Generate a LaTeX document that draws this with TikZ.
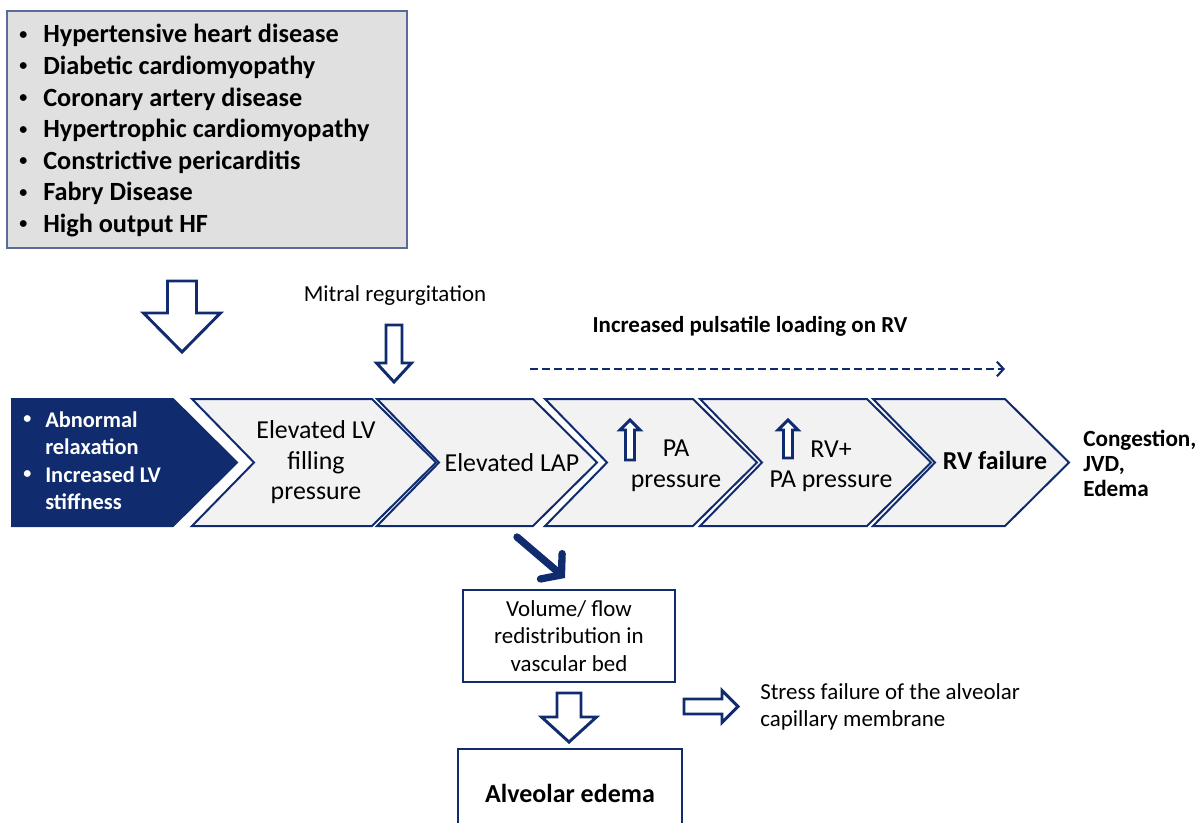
\documentclass[tikz,border=0pt]{standalone}
\usepackage{fontspec}
\setmainfont{Carlito}
\usetikzlibrary {positioning}
\usetikzlibrary{arrows.meta}

\definecolor{navy}{RGB}{16,44,110}
\definecolor{causegray}{RGB}{224,224,224}
\definecolor{stepgray}{RGB}{242,242,242}

% small bullet of the lists
\newcommand{\dotmark}{\raisebox{2.8pt}{\fontsize{12}{12}\selectfont\textbullet}}

% hollow vertical block arrow: x, start y, tip y, half shaft, half head, head length
\newcommand{\blockvert}[6]{%
  \draw[hollow] ({#1-#4},#2) -- ({#1+#4},#2) -- ({#1+#4},{#3-#6}) -- ({#1+#5},{#3-#6})
    -- (#1,#3) -- ({#1-#5},{#3-#6}) -- ({#1-#4},{#3-#6}) -- cycle;}

\begin{document}
\begin{tikzpicture}[x=0.75pt,y=-0.75pt,
    chevron/.style={draw=navy, fill=stepgray, line width=1.5pt, line join=miter},
    hollow/.style={draw=navy, fill=white, line width=2.2pt, line join=miter},
    bigtxt/.style={font=\fontsize{19.4}{22.9}\selectfont, align=center, inner sep=0pt},
    smalltxt/.style={font=\fontsize{17.2}{20.6}\selectfont, inner sep=0pt},
    causetxt/.style={font=\fontsize{19.7}{23.7}\selectfont\bfseries, anchor=base west, inner sep=0pt},
    onsettxt/.style={font=\fontsize{16.8}{20.6}\selectfont\bfseries, text=white, anchor=base west, inner sep=0pt}]
  \useasboundingbox (0,0) rectangle (1202,823);

  % causes
  \draw[draw=navy!70, fill=causegray, line width=1pt] (7,11) rectangle (407,248);
  \foreach \t [count=\i] in {Hypertensive heart disease, Diabetic cardiomyopathy, Coronary artery disease,
      Hypertrophic cardiomyopathy, Constrictive pericarditis, Fabry Disease, High output HF}
    {\node[causetxt] (cause\i) at (19,{43+31.6*(\i-1)}) {\makebox[18pt][l]{\dotmark}\t};}

  \blockvert{182}{281}{352}{14.5}{38.5}{39}

  % mitral regurgitation
  \node[smalltxt, anchor=base] (mitral) at (395,302) {Mitral regurgitation};
  \blockvert{394}{325}{382}{8}{17.5}{19}

  % pulsatile loading
  \node[smalltxt, font=\fontsize{17.2}{20.6}\selectfont\bfseries, anchor=base] (load) at (750,333) {Increased pulsatile loading on RV};
  \coordinate (load-s) at (530,369);
  \coordinate (load-e) at (1005,369);
  \draw[navy, line width=1.6pt, dash pattern=on 6pt off 3pt, -{Straight Barb[length=5pt,width=11pt]}] (load-s) -- (load-e);

  % chain of chevrons
  \draw[fill=navy, draw=navy, line width=1.5pt] (12,399) -- (173,399) -- (237,462.5) -- (173,526) -- (12,526) -- cycle;
  \foreach \l/\r in {192/372, 377/533, 545/693, 700/867, 873/1005}
    {\draw[chevron] (\l,399) -- (\r,399) -- (\r+64,462.5) -- (\r,526) -- (\l,526) -- (\l+62,462.5) -- cycle;}

  \node[onsettxt] (onset1) at (23,427) {\makebox[16.5pt][l]{\dotmark}Abnormal};
  \node[onsettxt] (onset2) at (23,454.5) {\hspace*{16.5pt}relaxation};
  \node[onsettxt] (onset3) at (23,482) {\makebox[16.5pt][l]{\dotmark}Increased LV};
  \node[onsettxt] (onset4) at (23,509.5) {\hspace*{16.5pt}stiffness};

  \node[bigtxt] (lvp) at (316,462.5) {Elevated LV\\filling\\pressure};
  \node[bigtxt] (lap) at (512,463) {Elevated LAP};
  \node[bigtxt] (pap) at (676,466) {PA\\pressure};
  \node[bigtxt] (rvp) at (831,466.5) {RV+\\PA pressure};
  \node[bigtxt, font=\fontsize{19.4}{22.9}\selectfont\bfseries] (rvf) at (995,461) {RV failure};
  \blockvert{630}{460}{420}{4.5}{10}{-10}
  \blockvert{788}{458}{420}{4.5}{10}{-10}

  \foreach \t [count=\i] in {{Congestion,}, {JVD,}, Edema}
    {\node[smalltxt, font=\fontsize{17.4}{19}\selectfont\bfseries, anchor=base west] (sign\i) at (1083,{446+25.3*(\i-1)}) {\t};}

  % pulmonary side
  \node[smalltxt, align=center, draw=navy, line width=2pt, minimum width=159pt, minimum height=69pt] (vol) at (569,636)
    {Volume/ flow\\redistribution in\\vascular bed};
  \coordinate (lap-out) at (517,537);
  \coordinate (vol-in) at (565,578);
  \draw[navy, line width=5.5pt, line cap=round, -{Straight Barb[length=10pt,width=25pt,line cap=round]}] (lap-out) -- (vol-in);

  \blockvert{569}{693}{742}{12}{27.5}{25}
  \node[bigtxt, font=\fontsize{19.5}{22.9}\selectfont\bfseries, draw=navy, line width=2pt, minimum width=168pt, minimum height=66pt] (edema) at (570,793) {Alveolar edema};

  \draw[hollow] (684,699) -- (722,699) -- (722,690.5) -- (738,706.5) -- (722,722.5) -- (722,714) -- (684,714) -- cycle;
  \node[smalltxt, align=left, anchor=west] (stress) at (760,707) {Stress failure of the alveolar\\capillary membrane};
\end{tikzpicture}
\end{document}
